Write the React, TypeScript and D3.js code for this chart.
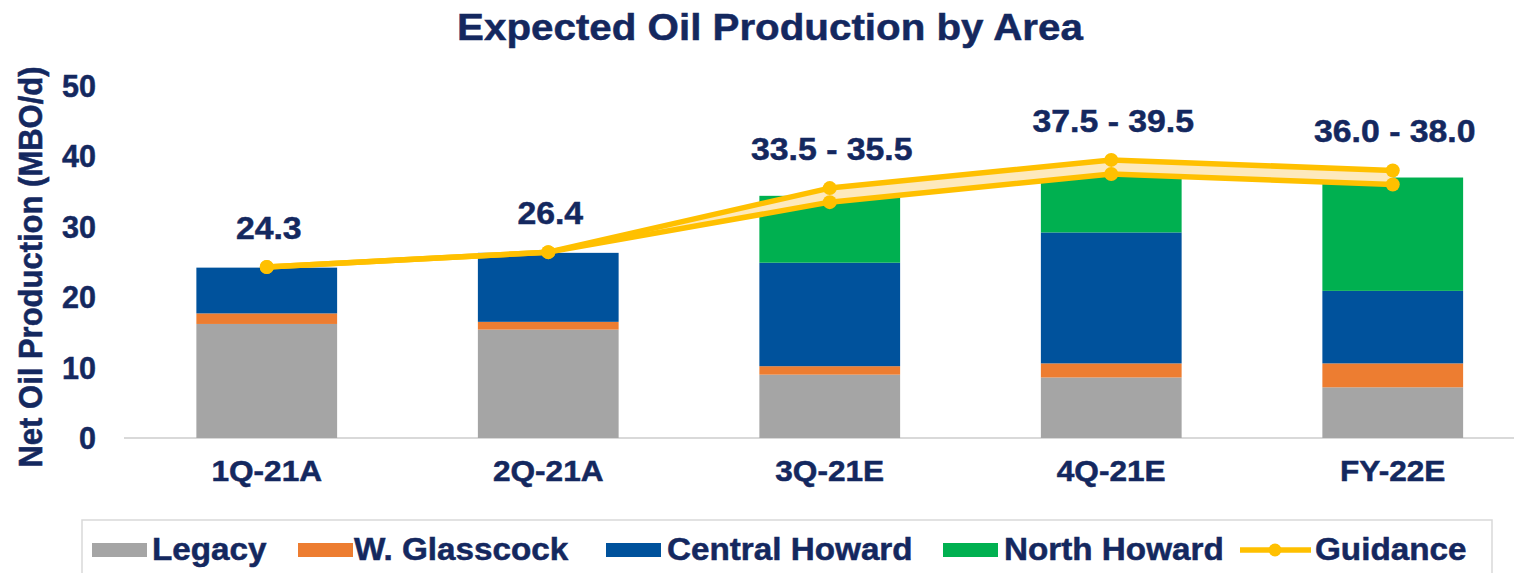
import * as d3 from "d3";

const categories = ["1Q-21A", "2Q-21A", "3Q-21E", "4Q-21E", "FY-22E"];
const legacy = [16.2, 15.4, 9.0, 8.6, 7.2];
const wGlasscock = [1.5, 1.1, 1.2, 2.0, 3.4];
const centralHoward = [6.5, 9.8, 14.7, 18.6, 10.3];
const northHoward = [0, 0, 9.5, 9.3, 16.1];
const guidanceLow = [24.3, 26.4, 33.5, 37.5, 36.0];
const guidanceHigh = [24.3, 26.4, 35.5, 39.5, 38.0];
const guidanceLabels = ["24.3", "26.4", "33.5 - 35.5", "37.5 - 39.5", "36.0 - 38.0"];
const yTicks = [0, 10, 20, 30, 40, 50];

const NAVY = "#14285f";
const FONT = "'Liberation Sans', Arial, Helvetica, sans-serif";
const SX = 1.09; // the reference text is a little wide

const series = [
  { name: "Legacy", values: legacy, color: "#a5a5a5" },
  { name: "W. Glasscock", values: wGlasscock, color: "#ed7d31" },
  { name: "Central Howard", values: centralHoward, color: "#00529c" },
  { name: "North Howard", values: northHoward, color: "#00b050" },
];

function Label({ x, y, size, anchor = "middle", rotate = false, sx = SX, children }: any) {
  return (
    <g transform={`translate(${x},${y}) scale(${sx},1)${rotate ? " rotate(-90)" : ""}`}>
      <text
        fontSize={size}
        textAnchor={anchor}
        fontWeight="bold"
        fill={NAVY}
        stroke={NAVY}
        strokeWidth={0.5}
        fontFamily={FONT}
      >
        {children}
      </text>
    </g>
  );
}

export default function App() {
  const width = 1514;
  const height = 573;

  const x = d3
    .scaleBand()
    .domain(categories)
    .range([126, 1533.5])
    .paddingInner(0.5)
    .paddingOuter(0.25);
  const y = d3.scaleLinear().domain([0, 50]).range([438, 86]);

  const rows = categories.map((c, i) => {
    const r: any = { cat: c };
    series.forEach((s) => (r[s.name] = s.values[i]));
    return r;
  });
  const stacked = d3.stack().keys(series.map((s) => s.name))(rows);

  const cx = (c: string) => (x(c) ?? 0) + x.bandwidth() / 2;
  const idx = categories.map((_, i) => i);

  const area = d3
    .area<number>()
    .x((i) => cx(categories[i]))
    .y0((i) => y(guidanceLow[i]))
    .y1((i) => y(guidanceHigh[i]));
  const lineLow = d3.line<number>().x((i) => cx(categories[i])).y((i) => y(guidanceLow[i]));
  const lineHigh = d3.line<number>().x((i) => cx(categories[i])).y((i) => y(guidanceHigh[i]));

  const legendItems = [
    { name: "Legacy", color: "#a5a5a5", sw: 92, tx: 152 },
    { name: "W. Glasscock", color: "#ed7d31", sw: 298, tx: 354 },
    { name: "Central Howard", color: "#00529c", sw: 606, tx: 667 },
    { name: "North Howard", color: "#00b050", sw: 943, tx: 1004 },
  ];

  return (
    <svg
      width={width}
      height={height}
      style={{ position: "absolute", left: 0, top: 0, background: "#fff" }}
    >
      <rect width={width} height={height} fill="#fff" />
      <Label x={770} y={40} size={37}>Expected Oil Production by Area</Label>

      <Label x={42} y={267} size={31} rotate>Net Oil Production (MBO/d)</Label>

      {yTicks.map((t) => (
        <Label key={t} x={96} y={y(t) + 11} size={30.5} anchor="end" sx={1}>
          {t}
        </Label>
      ))}

      <line x1={124} x2={width} y1={y(0)} y2={y(0)} stroke="#d9d9d9" strokeWidth={2} />

      {stacked.map((layer, li) => (
        <g key={layer.key} fill={series[li].color}>
          {layer.map((d, i) => (
            <rect
              key={i}
              x={x(categories[i])}
              width={x.bandwidth()}
              y={y(d[1])}
              height={Math.max(0, y(d[0]) - y(d[1]))}
            />
          ))}
        </g>
      ))}

      {categories.map((c) => (
        <Label key={c} x={cx(c)} y={481} size={29}>
          {c}
        </Label>
      ))}

      <path d={area(idx) ?? ""} fill="#fde9bd" />
      <path d={lineLow(idx) ?? ""} fill="none" stroke="#ffc000" strokeWidth={5.5} strokeLinejoin="round" />
      <path d={lineHigh(idx) ?? ""} fill="none" stroke="#ffc000" strokeWidth={5.5} strokeLinejoin="round" />
      {idx.map((i) => (
        <g key={i} fill="#ffc000">
          <circle cx={cx(categories[i])} cy={y(guidanceLow[i])} r={7} />
          <circle cx={cx(categories[i])} cy={y(guidanceHigh[i])} r={7} />
        </g>
      ))}

      {categories.map((c, i) => (
        <Label key={c} x={cx(c) + 2} y={y(guidanceHigh[i]) - 28} size={31}>
          {guidanceLabels[i]}
        </Label>
      ))}

      <rect x={82} y={520} width={1410} height={70} fill="none" stroke="#d9d9d9" strokeWidth={1.5} />
      {legendItems.map((it) => (
        <g key={it.name}>
          <rect x={it.sw} y={543} width={55} height={14} fill={it.color} />
          <Label x={it.tx} y={560} size={30.5} anchor="start">
            {it.name}
          </Label>
        </g>
      ))}
      <line x1={1240} x2={1311} y1={550} y2={550} stroke="#ffc000" strokeWidth={5.5} />
      <circle cx={1275} cy={550} r={6.5} fill="#ffc000" />
      <Label x={1315} y={560} size={30.5} anchor="start">Guidance</Label>
    </svg>
  );
}
